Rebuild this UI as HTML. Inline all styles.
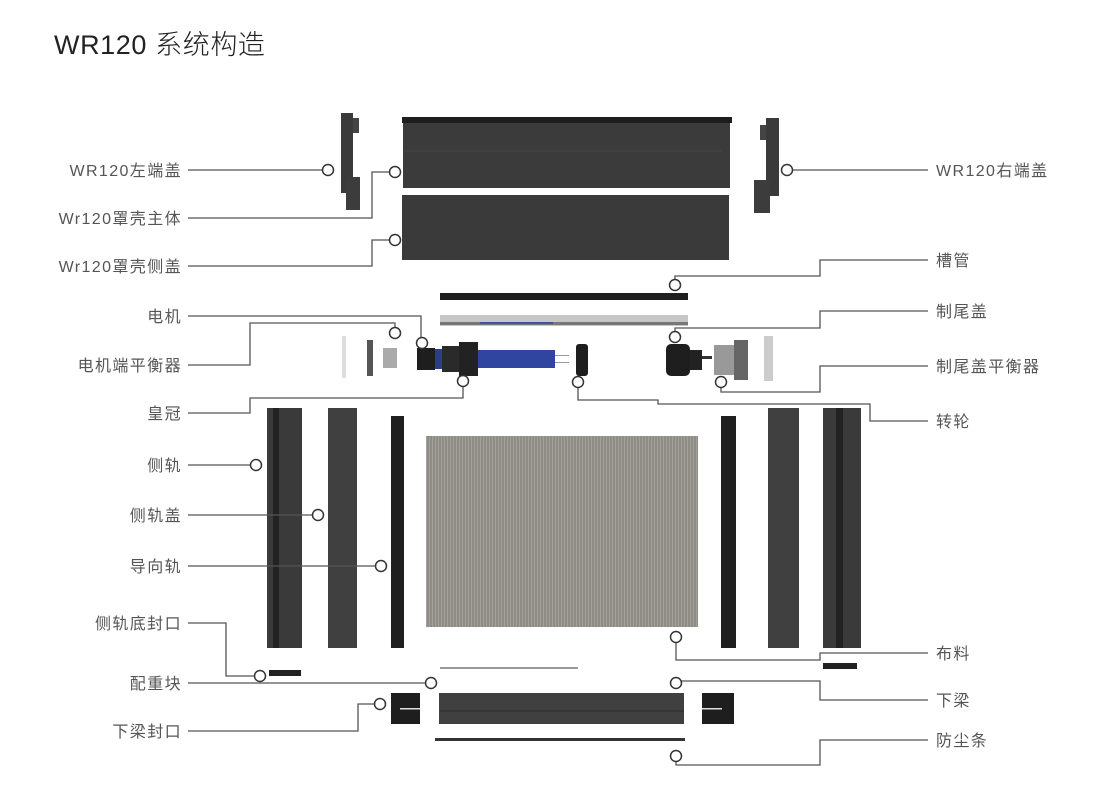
<!DOCTYPE html>
<html><head><meta charset="utf-8"><style>
html,body{margin:0;padding:0;background:#fff;}
body{width:1100px;height:805px;overflow:hidden;}
svg{display:block;}
text{font-family:"Liberation Sans","Noto Sans CJK SC",sans-serif;}
</style></head><body>
<svg width="1100" height="805" viewBox="0 0 1100 805" xmlns="http://www.w3.org/2000/svg">
<defs>
<pattern id="fab" width="3" height="4" patternUnits="userSpaceOnUse">
<rect width="3" height="4" fill="#8f8b85"/><rect width="1" height="4" fill="#a3a09a"/>
</pattern>
</defs>
<text x="54" y="54" font-size="27" fill="#222" letter-spacing="0.6" style="font-weight:300">WR120 系统构造</text>

<g font-size="16" fill="#555" text-anchor="end" letter-spacing="1.4">
<text x="182" y="176">WR120左端盖</text>
<text x="182" y="224">Wr120罩壳主体</text>
<text x="182" y="272">Wr120罩壳侧盖</text>
<text x="182" y="322">电机</text>
<text x="182" y="371">电机端平衡器</text>
<text x="182" y="419">皇冠</text>
<text x="182" y="471">侧轨</text>
<text x="182" y="521">侧轨盖</text>
<text x="182" y="572">导向轨</text>
<text x="182" y="629">侧轨底封口</text>
<text x="182" y="689">配重块</text>
<text x="182" y="737">下梁封口</text>
</g>
<g font-size="16" fill="#555" letter-spacing="1.4">
<text x="936" y="176">WR120右端盖</text>
<text x="936" y="266">槽管</text>
<text x="936" y="317">制尾盖</text>
<text x="936" y="372">制尾盖平衡器</text>
<text x="936" y="427">转轮</text>
<text x="936" y="659">布料</text>
<text x="936" y="706">下梁</text>
<text x="936" y="746">防尘条</text>
</g>

<g>
<rect x="341" y="113" width="12" height="80" fill="#3a3a3a"/>
<rect x="353" y="118" width="6" height="15" fill="#444"/>
<rect x="346" y="177" width="14" height="33" fill="#3c3c3c"/>
<rect x="766" y="118" width="13" height="78" fill="#3a3a3a"/>
<rect x="760" y="125" width="6" height="15" fill="#444"/>
<rect x="754" y="180" width="16" height="33" fill="#3c3c3c"/>
<rect x="403" y="120" width="327" height="68" fill="#3b3b3b"/>
<rect x="402" y="117" width="330" height="6" fill="#1e1e1e"/>
<line x1="404" y1="151" x2="722" y2="151" stroke="#444" stroke-width="1"/>
<rect x="402" y="195" width="327" height="65" fill="#3a3a3a"/>
<rect x="440" y="293" width="248" height="7" fill="#1f1f1f"/>
<rect x="440" y="315" width="248" height="11" fill="#c6c6c6"/>
<rect x="440" y="322" width="248" height="3" fill="#777"/>
<rect x="480" y="322" width="73" height="2" fill="#4055a0"/>
<rect x="342" y="336" width="4" height="42" fill="#ddd"/>
<rect x="367" y="340" width="6" height="36" fill="#555"/>
<rect x="383" y="348" width="14" height="20" fill="#aaa"/>
<rect x="417" y="348" width="18" height="22" fill="#1e1e1e"/>
<rect x="435" y="349" width="10" height="20" fill="#2c3d8a"/>
<rect x="442" y="346" width="18" height="26" fill="#2a2a2a"/>
<rect x="459" y="342" width="19" height="34" fill="#222"/>
<rect x="478" y="350" width="77" height="18" fill="#2f45a0"/>
<rect x="555" y="355" width="14" height="1" fill="#999"/>
<rect x="555" y="362" width="14" height="1" fill="#999"/>
<rect x="576" y="344" width="12" height="32" rx="3" fill="#1e1e1e"/>
<rect x="666" y="344" width="24" height="32" rx="5" fill="#1e1e1e"/>
<rect x="690" y="350" width="12" height="20" fill="#222"/>
<rect x="702" y="356" width="10" height="3" fill="#333"/>
<rect x="714" y="345" width="20" height="30" fill="#999"/>
<rect x="734" y="340" width="14" height="40" fill="#666"/>
<rect x="764" y="336" width="9" height="45" fill="#ccc"/>
<rect x="267" y="408" width="35" height="240" fill="#3a3a3a"/>
<rect x="273" y="408" width="6" height="240" fill="#222"/>
<rect x="328" y="408" width="29" height="240" fill="#404040"/>
<rect x="391" y="416" width="13" height="232" fill="#1f1f1f"/>
<rect x="426" y="436" width="272" height="191" fill="url(#fab)"/>
<rect x="721" y="416" width="15" height="232" fill="#1f1f1f"/>
<rect x="768" y="408" width="31" height="240" fill="#404040"/>
<rect x="823" y="408" width="38" height="240" fill="#3a3a3a"/>
<rect x="836" y="408" width="7" height="240" fill="#222"/>
<rect x="269" y="670" width="32" height="6" fill="#222"/>
<rect x="823" y="663" width="34" height="6" fill="#222"/>
<rect x="440" y="667" width="138" height="2" fill="#999"/>
<rect x="439" y="693" width="245" height="31" fill="#404040"/>
<line x1="440" y1="711" x2="684" y2="711" stroke="#2a2a2a"/>
<rect x="391" y="693" width="29" height="31" fill="#1e1e1e"/>
<rect x="400" y="708" width="20" height="1.5" fill="#ddd"/>
<rect x="702" y="693" width="32" height="31" fill="#1e1e1e"/>
<rect x="702" y="708" width="20" height="1.5" fill="#ddd"/>
<rect x="435" y="738" width="250" height="3" fill="#333"/>
</g>

<g fill="none" stroke="#555" stroke-width="1.3">
<polyline points="188,170 322,170"/>
<polyline points="188,218 372,218 372,172 389,172"/>
<polyline points="188,266 372,266 372,240 389,240"/>
<polyline points="188,316 421,316 421,337"/>
<polyline points="188,365 250,365 250,323 395,323 395,327"/>
<polyline points="188,413 250,413 250,398 463,398 463,387"/>
<polyline points="188,465 250,465"/>
<polyline points="188,515 312,515"/>
<polyline points="188,566 375,566"/>
<polyline points="188,623 226,623 226,676 254,676"/>
<polyline points="188,683 425,683"/>
<polyline points="188,731 358,731 358,704 374,704"/>
<polyline points="793,170 928,170"/>
<polyline points="675,279 675,276 820,276 820,260 928,260"/>
<polyline points="675,331 675,328 820,328 820,311 928,311"/>
<polyline points="721,388 721,392 820,392 820,366 928,366"/>
<polyline points="578,388 578,400 658,400 658,404 870,404 870,421 928,421"/>
<polyline points="676,643 676,660 820,660 820,653 928,653"/>
<polyline points="676,677 676,681 820,681 820,700 928,700"/>
<polyline points="676,762 676,765 820,765 820,740 928,740"/>
</g>
<g fill="#fff" stroke="#333" stroke-width="1.5">
<circle cx="328" cy="170" r="5.5"/>
<circle cx="395" cy="172" r="5.5"/>
<circle cx="395" cy="240" r="5.5"/>
<circle cx="422" cy="343" r="5.5"/>
<circle cx="395" cy="333" r="5.5"/>
<circle cx="463" cy="381" r="5.5"/>
<circle cx="256" cy="465" r="5.5"/>
<circle cx="318" cy="515" r="5.5"/>
<circle cx="381" cy="566" r="5.5"/>
<circle cx="260" cy="676" r="5.5"/>
<circle cx="431" cy="683" r="5.5"/>
<circle cx="380" cy="704" r="5.5"/>
<circle cx="787" cy="170" r="5.5"/>
<circle cx="675" cy="285" r="5.5"/>
<circle cx="675" cy="337" r="5.5"/>
<circle cx="721" cy="382" r="5.5"/>
<circle cx="578" cy="382" r="5.5"/>
<circle cx="676" cy="637" r="5.5"/>
<circle cx="676" cy="683" r="5.5"/>
<circle cx="676" cy="756" r="5.5"/>
</g>
</svg>
</body></html>
